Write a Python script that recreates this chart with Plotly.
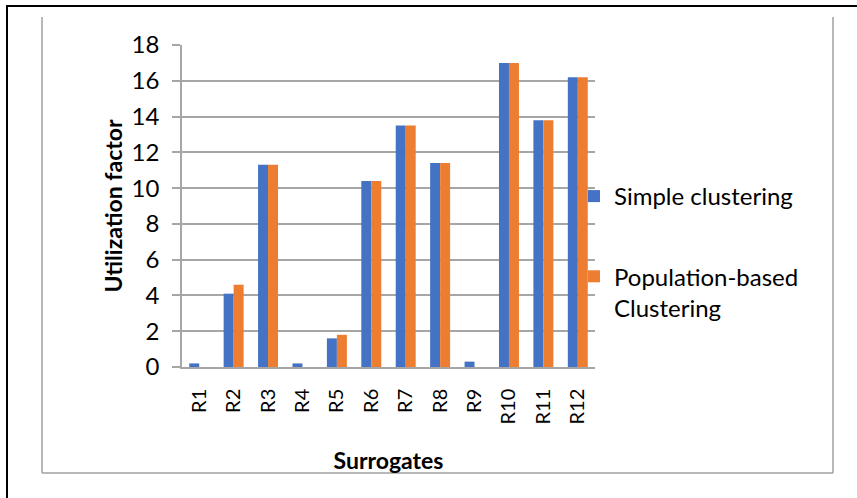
import plotly.graph_objects as go

categories = ["R1", "R2", "R3", "R4", "R5", "R6", "R7", "R8", "R9", "R10", "R11", "R12"]
simple_clustering = [0.2, 4.1, 11.3, 0.2, 1.6, 10.4, 13.5, 11.4, 0.3, 17.0, 13.8, 16.2]
population_clustering = [0, 4.6, 11.3, 0, 1.8, 10.4, 13.5, 11.4, 0, 17.0, 13.8, 16.2]
y_ticks = [0, 2, 4, 6, 8, 10, 12, 14, 16, 18]

W, H = 857, 498
L, R, T, B = 182, 595, 45, 367
pw, ph = R - L, B - T

def px(x):
    return (x - L) / pw

def py(y):
    return (B - y) / ph

FONT = "Lato"
GRID = "#A6A6A6"

fig = go.Figure()
fig.add_trace(go.Bar(x=categories, y=simple_clustering, name="Simple clustering",
                     marker=dict(color="#4472C4", line=dict(width=0)), legendgroup="a"))
fig.add_trace(go.Bar(x=categories, y=population_clustering, name="Population-based<br>Clustering",
                     marker=dict(color="#ED7D31", line=dict(width=0)), legendgroup="b"))

shapes = [
    # outer black frame
    dict(type="rect", xref="paper", yref="paper", x0=px(7), x1=px(880), y0=py(520), y1=py(6),
         line=dict(color="black", width=2), layer="below"),
    # inner gray frame (left, right, bottom)
    dict(type="line", xref="paper", yref="paper", x0=px(42), x1=px(42), y0=py(17), y1=py(473),
         line=dict(color="#A0A0A0", width=1.5)),
    dict(type="line", xref="paper", yref="paper", x0=px(833), x1=px(833), y0=py(17), y1=py(473),
         line=dict(color="#A0A0A0", width=1.5)),
    dict(type="line", xref="paper", yref="paper", x0=px(42), x1=px(833), y0=py(473), y1=py(473),
         line=dict(color="#A0A0A0", width=1.5)),
]

fig.update_layout(
    width=W, height=H,
    margin=dict(l=L, r=W - R, t=T, b=H - B, pad=0),
    paper_bgcolor="white", plot_bgcolor="white",
    barmode="group", bargap=0.42, bargroupgap=0,
    font=dict(family=FONT, color="black"),
    shapes=shapes,
    legend=dict(x=px(574), y=py(174), xanchor="left", yanchor="top",
                font=dict(family=FONT, size=24, color="black"),
                traceorder="grouped", tracegroupgap=46, valign="top",
                bgcolor="rgba(0,0,0,0)"),
    xaxis=dict(
        tickangle=-90, tickfont=dict(family=FONT, size=20, color="black"),
        showline=True, linecolor=GRID, linewidth=1.5, ticks="",
        ticklabelstandoff=12,
        title=dict(text="<b>Surrogates</b>", font=dict(family=FONT, size=23, color="black"), standoff=29),
    ),
    yaxis=dict(
        range=[0, 18], tickvals=y_ticks,
        tickfont=dict(family=FONT, size=24, color="black"),
        showgrid=True, gridcolor=GRID, gridwidth=1.5,
        showline=True, linecolor=GRID, linewidth=1.5,
        ticks="outside", ticklen=8, tickcolor=GRID, tickwidth=1.5,
        ticklabelstandoff=8, zeroline=False,
        title=dict(text="<b>Utilization factor</b>", font=dict(family=FONT, size=23, color="black"), standoff=3),
    ),
)

fig.write_html("out.html", config={"displayModeBar": False},
               post_script="document.body.style.margin='0';")
